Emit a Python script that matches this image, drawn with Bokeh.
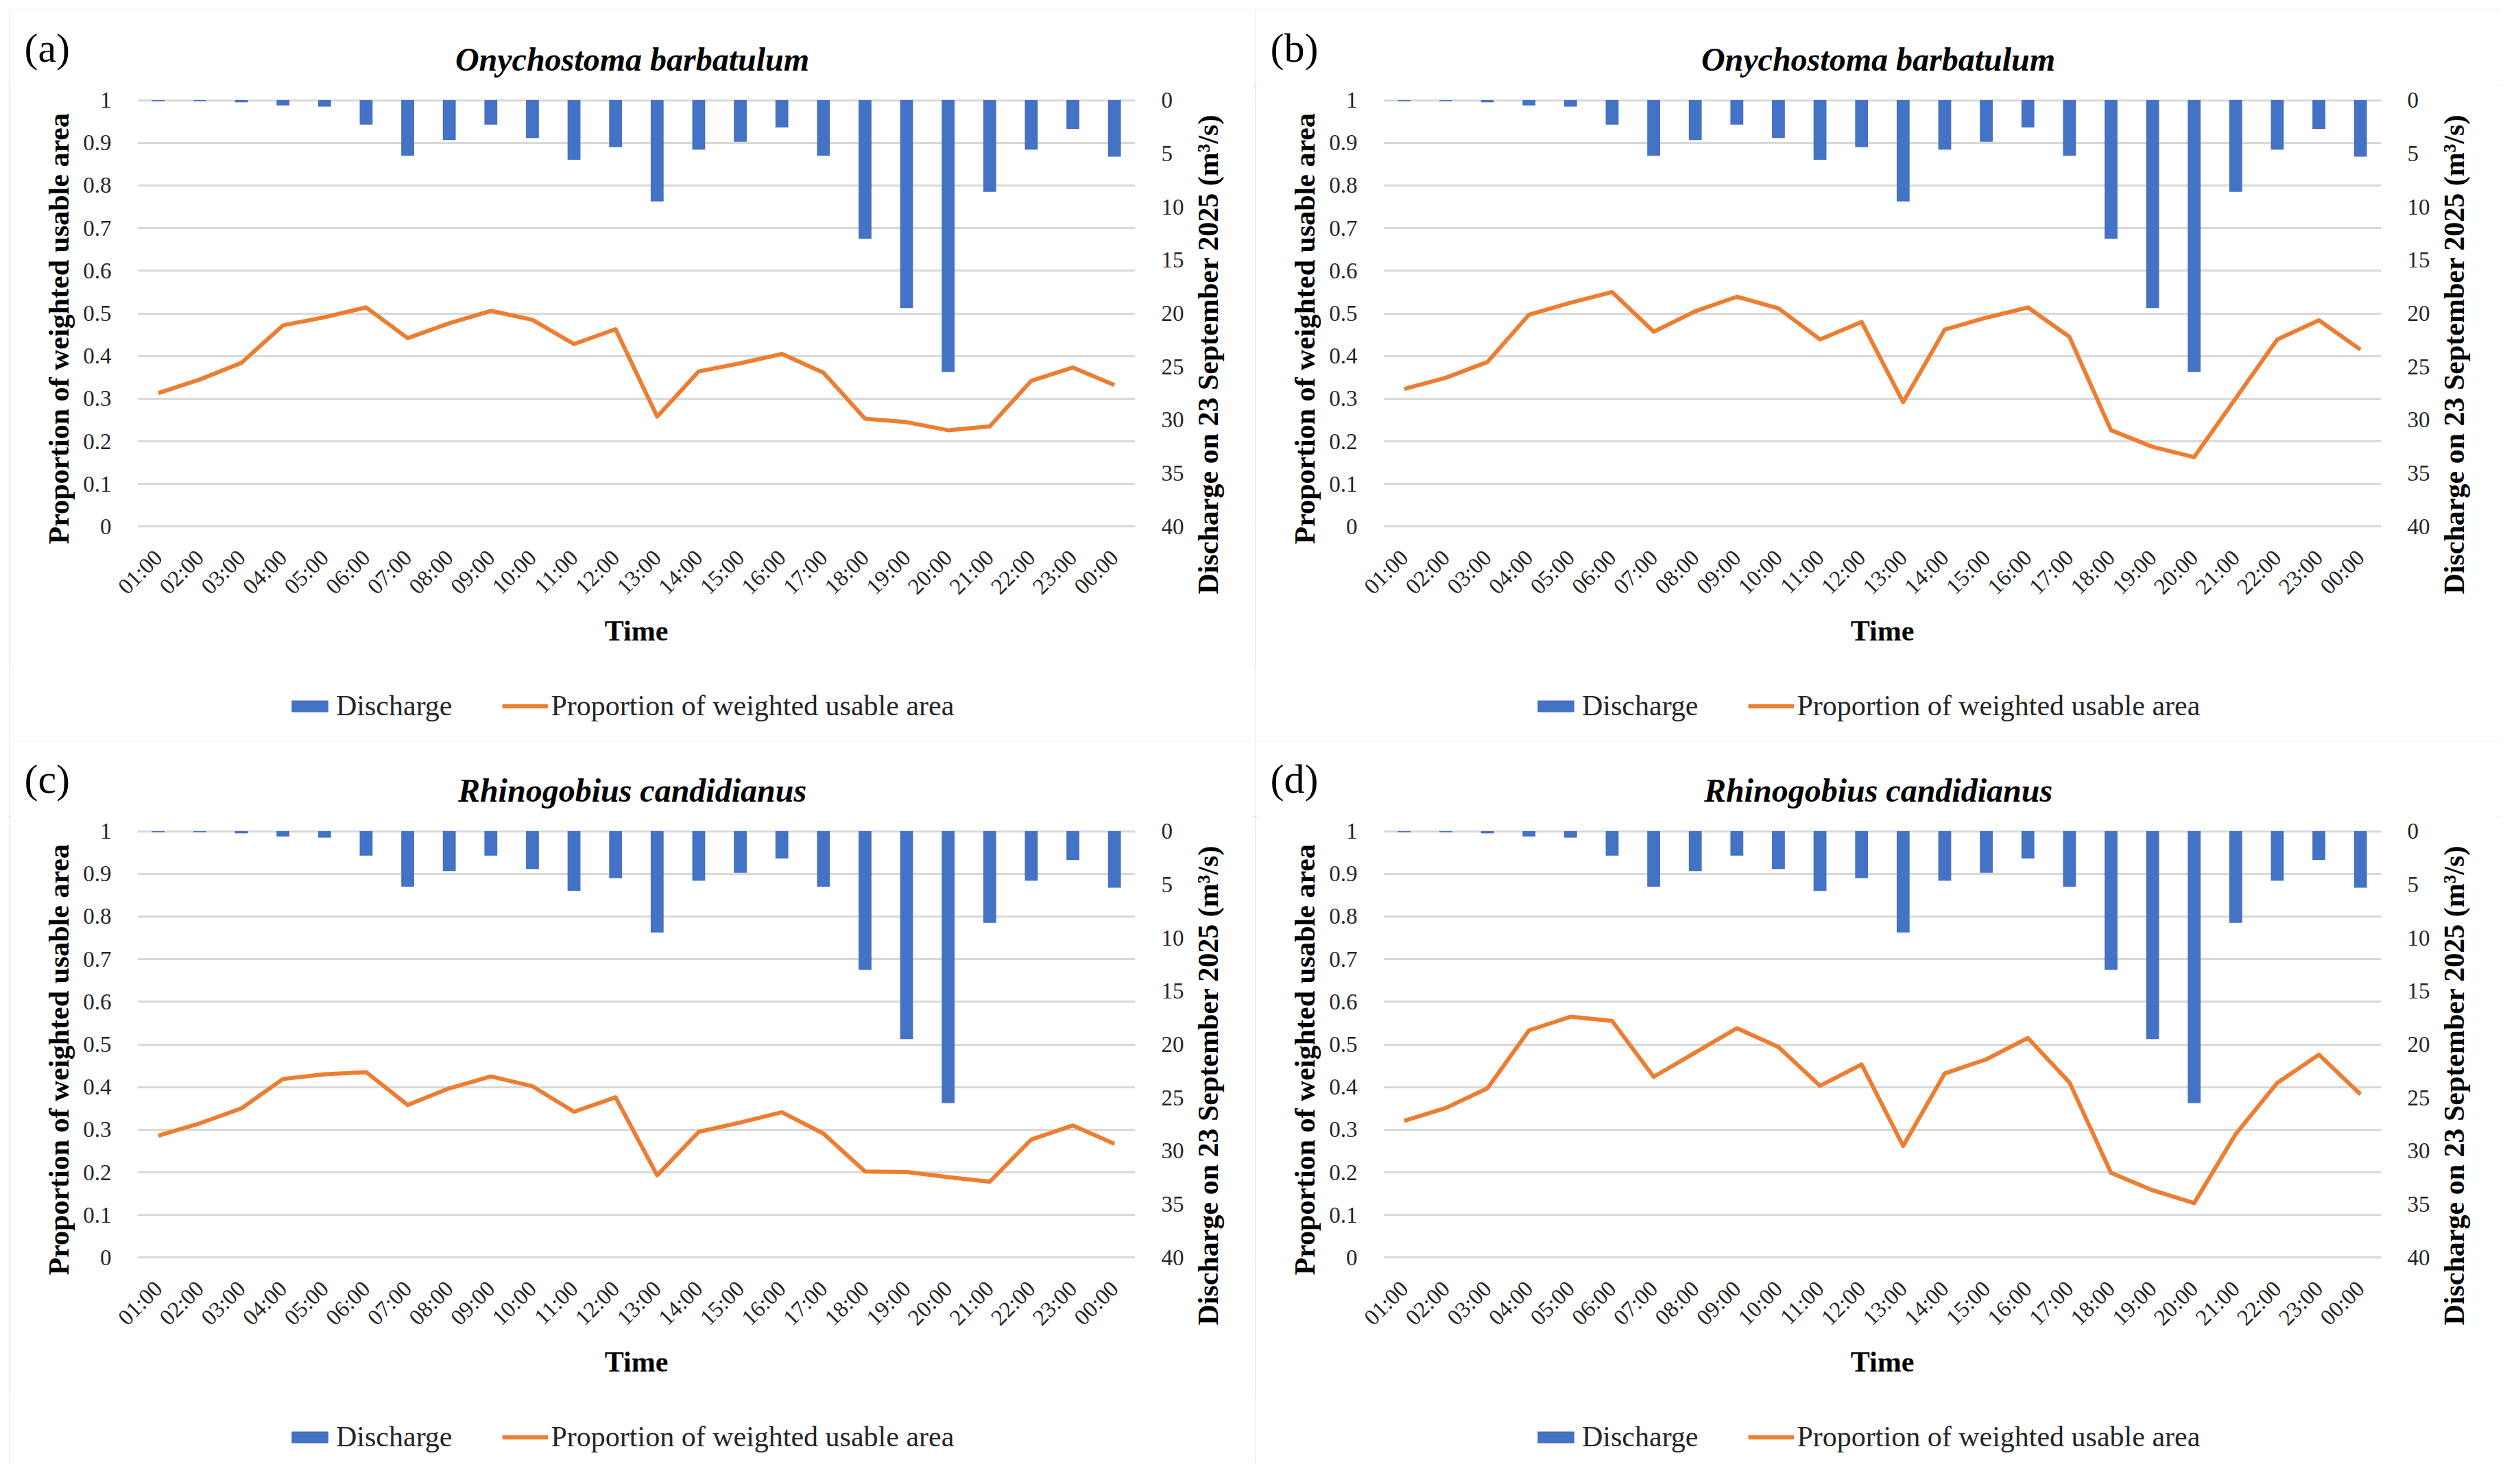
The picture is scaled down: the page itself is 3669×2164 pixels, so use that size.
import math
from bokeh.plotting import figure
from bokeh.models import (Range1d, LinearAxis, Label, Legend, LegendItem,
                          FixedTicker, FactorRange, Title, Spacer)
from bokeh.layouts import column, row
from bokeh.embed import file_html
from bokeh.resources import INLINE

# ---------------- data ----------------
hours = ["01:00", "02:00", "03:00", "04:00", "05:00", "06:00", "07:00", "08:00",
         "09:00", "10:00", "11:00", "12:00", "13:00", "14:00", "15:00", "16:00",
         "17:00", "18:00", "19:00", "20:00", "21:00", "22:00", "23:00", "00:00"]

discharge = [0.1, 0.1, 0.2, 0.5, 0.6, 2.3, 5.2, 3.75, 2.3, 3.55, 5.6, 4.4,
             9.5, 4.65, 3.9, 2.55, 5.2, 13.0, 19.5, 25.5, 8.6, 4.65, 2.7, 5.3]

wua_a = [0.313, 0.345, 0.384, 0.472, 0.491, 0.514, 0.442, 0.477, 0.506, 0.485, 0.428, 0.463,
         0.258, 0.364, 0.383, 0.405, 0.361, 0.253, 0.245, 0.226, 0.235, 0.342, 0.373, 0.332]
wua_b = [0.323, 0.349, 0.386, 0.497, 0.525, 0.550, 0.457, 0.505, 0.539, 0.512, 0.439, 0.480,
         0.292, 0.462, 0.490, 0.514, 0.445, 0.226, 0.187, 0.163, 0.301, 0.439, 0.484, 0.415]
wua_c = [0.286, 0.315, 0.350, 0.419, 0.430, 0.435, 0.358, 0.397, 0.425, 0.402, 0.342, 0.376,
         0.193, 0.295, 0.317, 0.341, 0.291, 0.202, 0.201, 0.189, 0.178, 0.277, 0.310, 0.267]
wua_d = [0.321, 0.351, 0.397, 0.533, 0.565, 0.555, 0.424, 0.481, 0.538, 0.494, 0.403, 0.453,
         0.262, 0.432, 0.465, 0.515, 0.411, 0.199, 0.158, 0.128, 0.290, 0.410, 0.476, 0.383]

panel_tags = ["(a)", "(b)", "(c)", "(d)"]
species = ["Onychostoma barbatulum", "Onychostoma barbatulum",
           "Rhinogobius candidianus", "Rhinogobius candidianus"]

left_ticks = [0, 0.1, 0.2, 0.3, 0.4, 0.5, 0.6, 0.7, 0.8, 0.9, 1]
left_labels = ["0", "0.1", "0.2", "0.3", "0.4", "0.5", "0.6", "0.7", "0.8", "0.9", "1"]
right_ticks = [0, 5, 10, 15, 20, 25, 30, 35, 40]

left_title = "Proportion of weighted usable area"
right_title = "Discharge on 23 September 2025 (m\u00b3/s)"
x_title = "Time"
legend_labels = ["Discharge", "Proportion of weighted usable area"]

# ---------------- style ----------------
SERIF = "Liberation Serif"
BAR_C = "#4472C4"
LINE_C = "#ED7D31"
GRID_C = "#D9D9D9"
TXT_C = "#262626"
FRAME_W, FRAME_H = 1459, 625
HH = 110            # header height
LT = 105            # left-title strip width
MB_L, MB_R, MB_T, MB_B = 78, 75, 20, 200
MW = MB_L + FRAME_W + MB_R
MH = MB_T + FRAME_H + MB_B
PAD = 0.0025        # keeps the edge grid lines un-clipped


def hide_title(f):
    f.title.text = ""
    f.title.visible = False
    f.title.text_font_size = "0px"
    f.title.standoff = 0


def blank(w, h, **borders):
    kw = dict(min_border=0)
    kw.update(borders)
    f = figure(width=w, height=h, x_range=Range1d(0, w), y_range=Range1d(0, h),
               x_axis_location=None, y_axis_location=None,
               toolbar_location=None, output_backend="svg", **kw)
    hide_title(f)
    f.outline_line_color = None
    f.background_fill_color = "white"
    f.border_fill_color = "white"
    f.xgrid.visible = False
    f.ygrid.visible = False
    return f


def side_title(text, offset):
    return Title(text=text, align="left", vertical_align="bottom", offset=offset,
                 standoff=10, text_font=SERIF, text_font_style="bold",
                 text_font_size="42px", text_color="black")


def make_panel(tag, sp, wua, PW, PH):
    RW = PW - LT - MW
    LH = PH - HH - MH

    # ---- header: panel tag + species title
    head = blank(PW, HH)
    head.add_layout(Label(x=22, y=HH - 55, text=tag, text_align="left",
                          text_baseline="alphabetic", text_font=SERIF,
                          text_font_size="60px", text_color="black"))
    head.add_layout(Label(x=LT + MB_L + FRAME_W / 2 - 4, y=HH - 72, text=sp,
                          text_align="center", text_baseline="alphabetic",
                          text_font=SERIF, text_font_style="bold italic",
                          text_font_size="48px", text_color="black"))

    # ---- left title strip (title in its left side panel, reads upward)
    lft = blank(LT, MH, min_border_left=100, min_border_right=0,
                min_border_top=MB_T, min_border_bottom=MB_B)
    lft.add_layout(side_title(left_title, -24), "left")

    # ---- main chart
    p = figure(width=MW, height=MH,
               x_range=FactorRange(factors=hours, range_padding=0),
               y_range=Range1d(-PAD, 1 + PAD),
               output_backend="svg", toolbar_location=None,
               min_border_left=MB_L, min_border_right=MB_R,
               min_border_top=MB_T, min_border_bottom=MB_B)
    hide_title(p)
    p.background_fill_color = "white"
    p.border_fill_color = "white"
    p.outline_line_color = None
    p.extra_y_ranges = {"q": Range1d(start=40 * (1 + PAD), end=-40 * PAD)}

    p.vbar(x=hours, top=discharge, bottom=0, width=0.31,
           y_range_name="q", fill_color=BAR_C, line_color=None)
    p.line(x=hours, y=wua, line_color=LINE_C, line_width=6, line_join="round")

    lt = FixedTicker(ticks=left_ticks)
    la = p.left[0]
    la.ticker = lt
    la.major_label_overrides = {t: s for t, s in zip(left_ticks, left_labels)}
    ra = LinearAxis(y_range_name="q", ticker=FixedTicker(ticks=right_ticks))
    p.add_layout(ra, "right")
    for ax in (la, ra):
        ax.axis_line_color = None
        ax.major_tick_line_color = None
        ax.minor_tick_line_color = None
        ax.major_label_text_font = SERIF
        ax.major_label_text_font_size = "33px"
        ax.major_label_text_color = TXT_C
        ax.major_label_standoff = 32

    xa = p.below[0]
    xa.axis_line_color = None
    xa.major_tick_line_color = None
    xa.minor_tick_line_color = None
    xa.major_label_orientation = math.pi / 4
    xa.major_label_text_font = SERIF
    xa.major_label_text_font_size = "33px"
    xa.major_label_text_color = TXT_C
    xa.major_label_standoff = 32
    xa.axis_label = x_title
    xa.axis_label_text_font = SERIF
    xa.axis_label_text_font_style = "bold"
    xa.axis_label_text_font_size = "42px"
    xa.axis_label_text_color = "black"
    xa.axis_label_standoff = 8

    p.xgrid.visible = False
    p.ygrid.ticker = lt
    p.ygrid.grid_line_color = GRID_C
    p.ygrid.grid_line_width = 3

    # ---- right title strip (title in its left side panel, reads upward)
    rtf = blank(RW, MH, min_border_left=59, min_border_right=0,
                min_border_top=MB_T, min_border_bottom=MB_B)
    rtf.add_layout(side_title(right_title, -97), "left")

    # ---- legend strip
    lg = blank(PW, LH)
    rb = lg.vbar(x=[-1000], top=[1], bottom=[0], width=1,
                 fill_color=BAR_C, line_color=None)
    rl = lg.line(x=[-1000, -999], y=[0, 0], line_color=LINE_C, line_width=6)
    legend = Legend(items=[LegendItem(label=legend_labels[0], renderers=[rb]),
                           LegendItem(label=legend_labels[1], renderers=[rl])],
                    orientation="horizontal", location=(405, LH - 84),
                    glyph_width=67, glyph_height=21, label_standoff=5, spacing=72,
                    label_text_font=SERIF, label_text_font_size="42px",
                    label_text_color=TXT_C, border_line_color=None,
                    background_fill_alpha=0, padding=10)
    lg.add_layout(legend, "center")

    return column(head, row(lft, p, rtf), lg,
                  styles={"outline": "3px solid #DCDCDC", "outline-offset": "-3px"})


pa = make_panel(panel_tags[0], species[0], wua_a, 1817, 1066)
pb = make_panel(panel_tags[1], species[1], wua_b, 1815, 1066)
pc = make_panel(panel_tags[2], species[2], wua_c, 1817, 1055)
pd = make_panel(panel_tags[3], species[3], wua_d, 1815, 1055)

grid = column(row(pa, pb), row(pc, pd))
page = column(Spacer(width=20, height=14), row(Spacer(width=13, height=20), grid))

open("out.html", "w").write(file_html(page, INLINE, title="WUA"))
